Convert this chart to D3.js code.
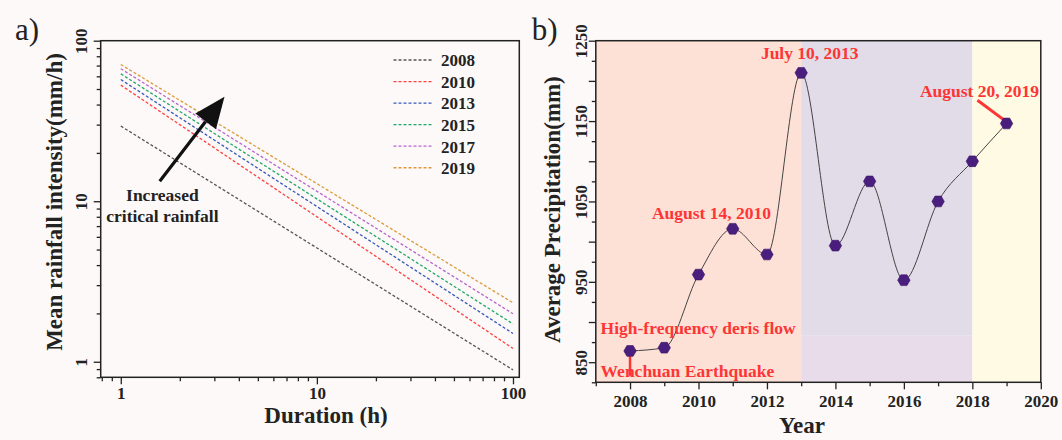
<!DOCTYPE html>
<html>
<head>
<meta charset="utf-8">
<script src="https://cdn.jsdelivr.net/npm/d3@7/dist/d3.min.js"></script>
<style>
  body { margin: 0; background: #fcf9f8; }
  svg { display: block; font-family: "Liberation Serif", "Times New Roman", serif; }
</style>
</head>
<body>
<svg id="chart" width="1062" height="440"></svg>
<script>
// ---- panel a) data ----
var durations = [1, 100];
var lineYears = ["2008", "2010", "2013", "2015", "2017", "2019"];
var intensityAt1 = [29.4, 52.9, 57.3, 62.2, 66.9, 71.1];
var intensityAt100 = [0.89, 1.21, 1.50, 1.72, 1.99, 2.33];
var lineColors = ["#555555", "#ff4040", "#3558bb", "#1fa866", "#b765cf", "#dc9a3a"];
var durTicks = [1, 10, 100];
var intTicks = [1, 10, 100];

// ---- panel b) data ----
var precipYears = [2008, 2009, 2010, 2011, 2012, 2013, 2014, 2015, 2016, 2017, 2018, 2019];
var precipValues = [864, 868, 959, 1016, 984, 1210, 995, 1075, 952, 1050, 1100, 1147];
var yearTicks = [2008, 2010, 2012, 2014, 2016, 2018, 2020];
var precipTicks = [850, 950, 1050, 1150, 1250];

var svg = d3.select("#chart");
var ink = "#222";
var red = "#fe3535";

function minorLog(lo, hi) {
    var out = [];
    for (var e = -1; e <= 2; e++) {
        for (var m = 2; m <= 9; m++) {
            var v = m * Math.pow(10, e);
            if (v >= lo && v <= hi) out.push(v);
        }
    }
    return out;
}

function styleAxis(g) {
    g.select(".domain").remove();
    g.selectAll("line").attr("stroke", ink).attr("stroke-width", 1.3);
    g.selectAll("text").attr("fill", ink).attr("font-weight", "bold")
        .attr("font-size", "17px").attr("font-family", "Liberation Serif");
}

// =================== panel a) ===================
var xa = d3.scaleLog().domain([0.79, 107.7]).range([100.7, 519.3]),
    ya = d3.scaleLog().domain([0.8, 100]).range([377.3, 40.7]);

var ga = svg.append("g");

// minor ticks
ga.append("g").attr("transform", "translate(0,377.3)")
    .call(d3.axisBottom(xa).tickValues(minorLog(0.79, 107.7)).tickSize(4).tickFormat(""))
    .call(styleAxis);
ga.append("g").attr("transform", "translate(100.7,0)")
    .call(d3.axisLeft(ya).tickValues(minorLog(0.8, 100)).tickSize(4).tickFormat(""))
    .call(styleAxis);

// major ticks
ga.append("g").attr("transform", "translate(0,377.3)")
    .call(d3.axisBottom(xa).tickValues(durTicks).tickSize(7).tickFormat(d3.format("d")))
    .call(styleAxis)
    .selectAll("text").attr("y", 21.7).attr("dy", 0);
ga.append("g").attr("transform", "translate(100.7,0)")
    .call(d3.axisLeft(ya).tickValues(intTicks).tickSize(7).tickFormat(d3.format("d")))
    .call(styleAxis)
    .selectAll("text")
    .attr("x", 0).attr("y", -14).attr("dy", 0)
    .attr("text-anchor", "middle")
    .attr("transform", "rotate(-90)");

// frame
ga.append("rect").attr("x", 100.7).attr("y", 40.7)
    .attr("width", 418.6).attr("height", 336.6)
    .attr("fill", "none").attr("stroke", ink).attr("stroke-width", 1.5);

// dashed lines
var lineA = d3.line().x(function (d) { return xa(d[0]); }).y(function (d) { return ya(d[1]); });
lineYears.forEach(function (yr, i) {
    var pts = [[durations[0], intensityAt1[i]], [durations[1], intensityAt100[i]]];
    ga.append("path").datum(pts)
        .attr("d", lineA)
        .attr("fill", "none")
        .attr("stroke", lineColors[i])
        .attr("stroke-width", 1.3)
        .attr("stroke-dasharray", "3,2");
});

// legend
var leg = ga.append("g").attr("transform", "translate(393.5,60)");
lineYears.forEach(function (yr, i) {
    var row = leg.append("g").attr("transform", "translate(0," + (i * 21.55) + ")");
    row.append("line").attr("x1", 0).attr("x2", 38).attr("y1", 0).attr("y2", 0)
        .attr("stroke", lineColors[i]).attr("stroke-width", 1.3).attr("stroke-dasharray", "3,2");
    row.append("text").attr("x", 47.5).attr("y", 6.3)
        .attr("font-size", "17px").attr("font-weight", "bold").attr("fill", ink)
        .text(yr);
});

// arrow
var tail = [xa(1.58), ya(13.3)], tip = [xa(3.38), ya(44.7)];
var ang = Math.atan2(tip[1] - tail[1], tip[0] - tail[0]);
var headLen = 31, headHalf = 13;
var base = [tip[0] - headLen * Math.cos(ang), tip[1] - headLen * Math.sin(ang)];
ga.append("line")
    .attr("x1", tail[0]).attr("y1", tail[1])
    .attr("x2", base[0]).attr("y2", base[1])
    .attr("stroke", "#111").attr("stroke-width", 3.2);
ga.append("path")
    .attr("d", "M" + tip[0] + "," + tip[1] +
        "L" + (base[0] + headHalf * Math.sin(ang)) + "," + (base[1] - headHalf * Math.cos(ang)) +
        "L" + (base[0] - headHalf * Math.sin(ang)) + "," + (base[1] + headHalf * Math.cos(ang)) + "Z")
    .attr("fill", "#111");

ga.append("text").attr("x", xa(1.63)).attr("y", ya(10.0))
    .attr("text-anchor", "middle").attr("font-size", "17.5px").attr("font-weight", "bold")
    .attr("fill", ink).text("Increased");
ga.append("text").attr("x", xa(1.63)).attr("y", ya(7.41))
    .attr("text-anchor", "middle").attr("font-size", "17.5px").attr("font-weight", "bold")
    .attr("fill", ink).text("critical rainfall");

// axis titles
ga.append("text").attr("x", 326).attr("y", 423)
    .attr("text-anchor", "middle").attr("font-size", "23px").attr("font-weight", "bold")
    .attr("fill", ink).text("Duration (h)");
ga.append("text").attr("transform", "translate(62,202) rotate(-90)")
    .attr("text-anchor", "middle").attr("font-size", "23px").attr("font-weight", "bold")
    .attr("fill", ink).text("Mean rainfall intensity(mm/h)");

svg.append("text").attr("x", 15).attr("y", 40).attr("font-size", "31px")
    .attr("fill", ink).text("a)");

// =================== panel b) ===================
var xb = d3.scaleLinear().domain([2007, 2020]).range([595.8, 1040.8]),
    yb = d3.scaleLinear().domain([825, 1250]).range([382.3, 40.7]);

var gb = svg.append("g");

// background periods
gb.append("rect").attr("x", xb(2007)).attr("y", yb(1250))
    .attr("width", xb(2013) - xb(2007)).attr("height", yb(825) - yb(1250))
    .attr("fill", "#fde1d7");
gb.append("rect").attr("x", xb(2013)).attr("y", yb(1250))
    .attr("width", xb(2018) - xb(2013)).attr("height", yb(883) - yb(1250))
    .attr("fill", "#e2dbe8");
gb.append("rect").attr("x", xb(2013)).attr("y", yb(883))
    .attr("width", xb(2018) - xb(2013)).attr("height", yb(825) - yb(883))
    .attr("fill", "#e8dcea");
gb.append("rect").attr("x", xb(2018)).attr("y", yb(1250))
    .attr("width", xb(2020) - xb(2018)).attr("height", yb(825) - yb(1250))
    .attr("fill", "#fffae3");

// ticks
var yearMinor = d3.range(2007, 2021, 2);
var precipMinor = d3.range(825, 1251, 25).filter(function (v) { return v % 50 !== 0; });
var precipMajor = d3.range(850, 1251, 50);

gb.append("g").attr("transform", "translate(0,382.3)")
    .call(d3.axisBottom(xb).tickValues(yearMinor).tickSize(4).tickFormat(""))
    .call(styleAxis);
gb.append("g").attr("transform", "translate(0,382.3)")
    .call(d3.axisBottom(xb).tickValues(yearTicks).tickSize(7).tickFormat(d3.format("d")))
    .call(styleAxis)
    .selectAll("text").attr("y", 24.4).attr("dy", 0);
gb.append("g").attr("transform", "translate(595.8,0)")
    .call(d3.axisLeft(yb).tickValues(precipMinor).tickSize(4).tickFormat(""))
    .call(styleAxis);
gb.append("g").attr("transform", "translate(595.8,0)")
    .call(d3.axisLeft(yb).tickValues(precipMajor).tickSize(7)
        .tickFormat(function (d) { return precipTicks.indexOf(d) >= 0 ? d : ""; }))
    .call(styleAxis)
    .selectAll("text")
    .attr("x", 0).attr("y", -9.3).attr("dy", 0)
    .attr("text-anchor", "middle")
    .attr("transform", "rotate(-90)");

gb.append("rect").attr("x", xb(2007)).attr("y", yb(1250))
    .attr("width", xb(2020) - xb(2007)).attr("height", yb(825) - yb(1250))
    .attr("fill", "none").attr("stroke", ink).attr("stroke-width", 1.5);

// spline through the yearly values
var pts = precipYears.map(function (y, i) { return [y, precipValues[i]]; });
gb.append("path").datum(pts)
    .attr("d", d3.line().curve(d3.curveMonotoneX)
        .x(function (d) { return xb(d[0]); })
        .y(function (d) { return yb(d[1]); }))
    .attr("fill", "none").attr("stroke", "#444").attr("stroke-width", 1);

// annotation pointers (under markers)
gb.append("line")
    .attr("x1", xb(2008)).attr("x2", xb(2008))
    .attr("y1", yb(864)).attr("y2", yb(833))
    .attr("stroke", red).attr("stroke-width", 2.5);
gb.append("line")
    .attr("x1", xb(2018.15)).attr("y1", yb(1176))
    .attr("x2", xb(2019)).attr("y2", yb(1149))
    .attr("stroke", red).attr("stroke-width", 3);

// hexagon markers
var hexR = 6.2;
var hex = d3.range(6).map(function (k) {
    var a = k * Math.PI / 3;
    return [hexR * Math.cos(a), hexR * Math.sin(a)];
});
gb.selectAll(".hex").data(pts).enter().append("path")
    .attr("class", "hex")
    .attr("transform", function (d) { return "translate(" + xb(d[0]) + "," + yb(d[1]) + ")"; })
    .attr("d", "M" + hex.join("L") + "Z")
    .attr("fill", "#4a1e7c").attr("stroke", "#3a1468").attr("stroke-width", 0.6);

function redText(x, y, anchor, txt) {
    gb.append("text").attr("x", x).attr("y", y).attr("text-anchor", anchor)
        .attr("font-size", "17.5px").attr("font-weight", "bold").attr("fill", red).text(txt);
}
redText(xb(2013.25), yb(1227), "middle", "July 10, 2013");
redText(xb(2010.38), yb(1028), "middle", "August 14, 2010");
redText(xb(2018.21), yb(1179.5), "middle", "August 20, 2019");
redText(xb(2007.14), yb(885.5), "start", "High-frequency deris flow");
redText(xb(2007.14), yb(832), "start", "Wenchuan Earthquake");

// axis titles
gb.append("text").attr("x", 802).attr("y", 433)
    .attr("text-anchor", "middle").attr("font-size", "23px").attr("font-weight", "bold")
    .attr("fill", ink).text("Year");
gb.append("text").attr("transform", "translate(560,209.6) rotate(-90)")
    .attr("text-anchor", "middle").attr("font-size", "23px").attr("font-weight", "bold")
    .attr("fill", ink).text("Average Precipitation(mm)");

svg.append("text").attr("x", 531.7).attr("y", 40).attr("font-size", "31px")
    .attr("fill", ink).text("b)");
</script>
</body>
</html>
